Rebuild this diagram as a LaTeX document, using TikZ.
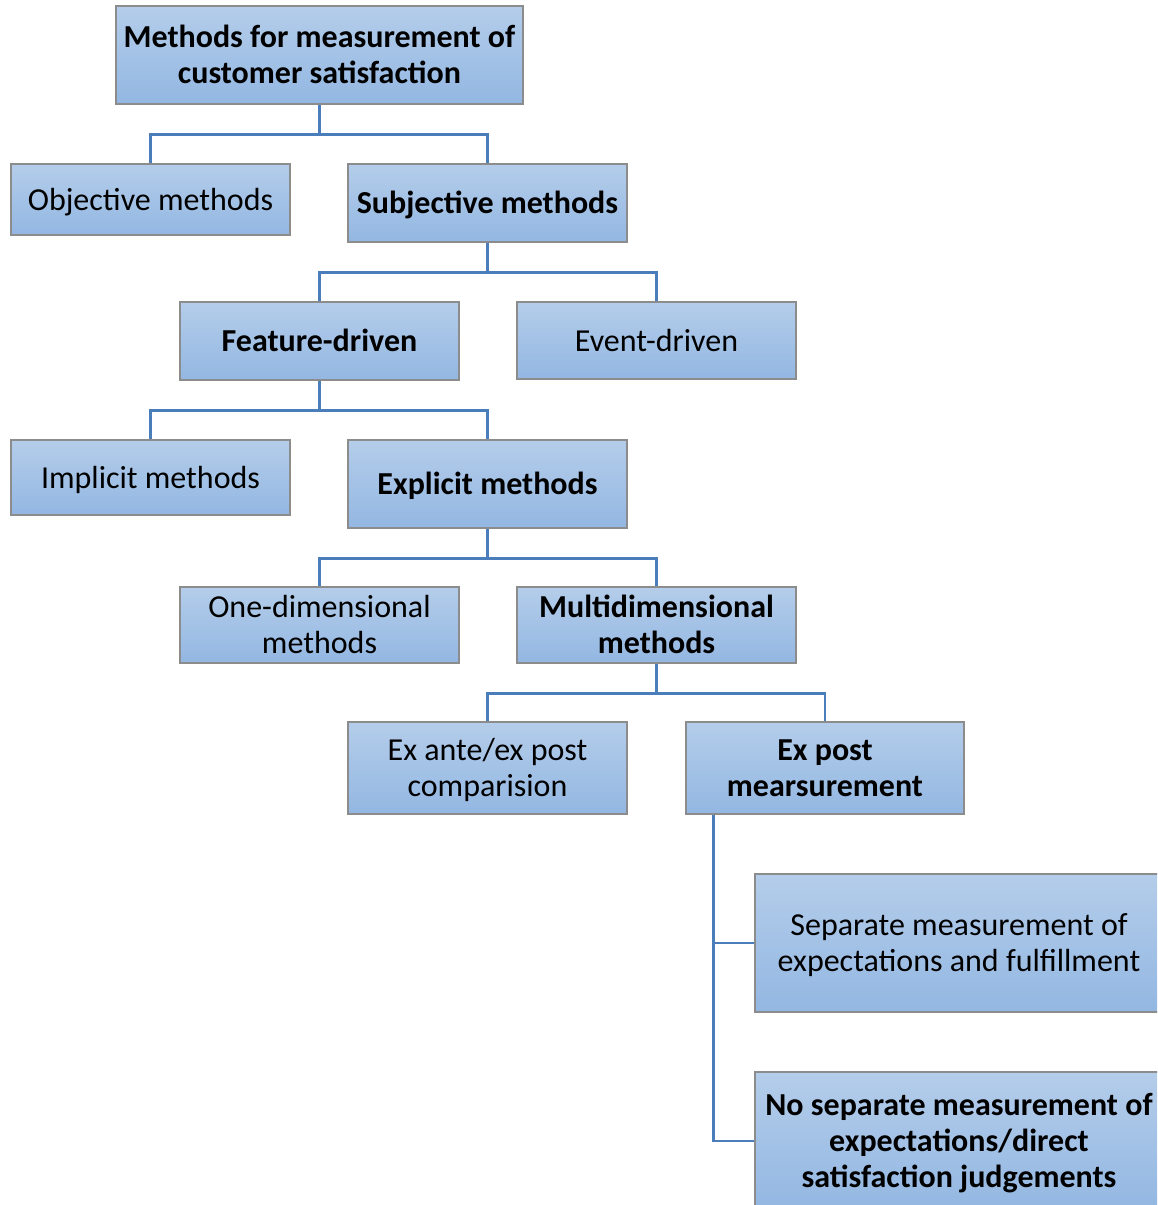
\documentclass[tikz,border=0pt]{standalone}
\usepackage{fontspec}
\setmainfont{Carlito}
\definecolor{boxtop}{HTML}{B4CDEA}
\definecolor{boxbot}{HTML}{93B7E2}
\definecolor{boxline}{HTML}{8C8C8C}
\definecolor{linkblue}{HTML}{4A7EBB}
% one line of box text: fixed ascent 28.5pt and descent 7.5pt
\newcommand{\linestrut}{\rule[-7.5pt]{0pt}{36pt}}
\tikzset{
  box/.style={draw=boxline, line width=1.2pt, top color=boxtop, bottom color=boxbot,
    rectangle, align=center, inner sep=0pt, text=black,
    font=\fontsize{32}{36}\selectfont},
  bbox/.style={box, font=\fontsize{32}{36}\selectfont\bfseries},
  link/.style={draw=linkblue, line width=2.6pt}
}
\begin{document}
\begin{tikzpicture}[x=1pt,y=-1pt]
\useasboundingbox (0,0) rectangle (1157,1205);
\clip (0,0) rectangle (1157,1205);

% tree of boxes
\node[bbox, minimum width=407, minimum height=98] (root) at (319.5,55) {\linestrut Methods for measurement of\\\linestrut customer satisfaction};
\node[box,  minimum width=279, minimum height=71] (obj) at (150.5,199.5) {\linestrut Objective methods};
\node[bbox, minimum width=279, minimum height=78] (subj) at (487.5,203) {\linestrut Subjective methods};
\node[bbox, minimum width=279, minimum height=78] (feat) at (319.5,341) {\linestrut Feature-driven};
\node[box,  minimum width=279, minimum height=77] (event) at (656.5,340.5) {\linestrut Event-driven};
\node[box,  minimum width=279, minimum height=75] (impl) at (150.5,477.5) {\linestrut Implicit methods};
\node[bbox, minimum width=279, minimum height=88] (expl) at (487.5,484) {\linestrut Explicit methods};
\node[box,  minimum width=279, minimum height=76] (onedim) at (319.5,625) {\linestrut One-dimensional\\\linestrut methods};
\node[bbox, minimum width=279, minimum height=76] (multi) at (656.5,625) {\linestrut Multidimensional\\\linestrut methods};
\node[box,  minimum width=279, minimum height=92] (exante) at (487.5,768) {\linestrut Ex ante/ex post\\\linestrut comparision};
\node[bbox, minimum width=278, minimum height=92] (expost) at (825,768) {\linestrut Ex post\\\linestrut mearsurement};
\node[box,  minimum width=408, minimum height=138] (sep) at (959,943) {\linestrut Separate measurement of\\\linestrut expectations and fulfillment};
\node[bbox, minimum width=408, minimum height=138] (nosep) at (959,1141) {\linestrut No separate measurement of\\\linestrut expectations/direct\\\linestrut satisfaction judgements};

% connectors
\draw[link] (root.south) -- ++(0,30) -| (obj.north);
\draw[link] (root.south) -- ++(0,30) -| (subj.north);
\draw[link] (subj.south) -- ++(0,30) -| (feat.north);
\draw[link] (subj.south) -- ++(0,30) -| (event.north);
\draw[link] (feat.south) -- ++(0,30) -| (impl.north);
\draw[link] (feat.south) -- ++(0,30) -| (expl.north);
\draw[link] (expl.south) -- ++(0,30) -| (onedim.north);
\draw[link] (expl.south) -- ++(0,30) -| (multi.north);
\draw[link] (multi.south) -- ++(0,30) -| (exante.north);
\draw[link] (multi.south) -- ++(0,30) -| (expost.north);
\draw[link] ([xshift=28pt]expost.south west) |- (sep.west);
\draw[link] ([xshift=28pt]expost.south west) |- (nosep.west);
\end{tikzpicture}
\end{document}
